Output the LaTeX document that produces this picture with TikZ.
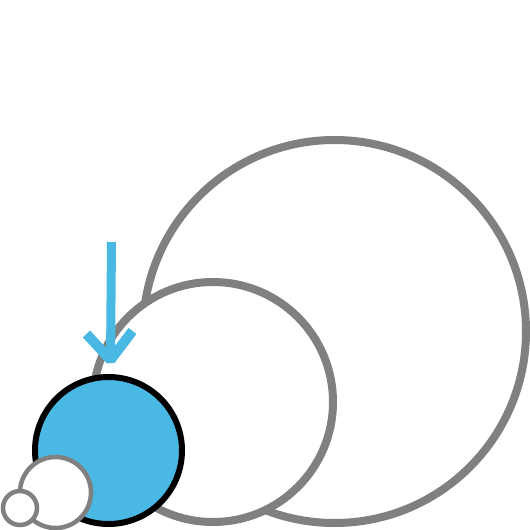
\documentclass[tikz,border=0pt]{standalone}
\usetikzlibrary{calc}
\definecolor{ringgray}{RGB}{128,128,128}
\definecolor{skyblue}{RGB}{73,185,228}
\begin{document}
\begin{tikzpicture}[x=1pt,y=-1pt,
  ring/.style={circle,draw=ringgray,fill=white,inner sep=0pt,outer sep=0pt},
  bluedisc/.style={circle,draw=black,fill=skyblue,inner sep=0pt,outer sep=0pt,line width=6pt},
  pointer/.style={draw=skyblue,line width=9pt,line join=bevel}]
\useasboundingbox (0,0) rectangle (530,530);
\node[ring,line width=8pt,minimum size=383pt] (big) at (334.5,331.5) {};
\node[ring,line width=8pt,minimum size=240pt] (mid) at (213,402) {};
\node[bluedisc,minimum size=147pt] (blue) at (108.5,450.5) {};
\node[ring,line width=4.5pt,minimum size=71pt] (small) at (55.5,492.5) {};
\node[ring,line width=4.5pt,minimum size=34pt] (tiny) at (20,508) {};
\coordinate (atop) at (111.5,242);
\coordinate (tip) at (110.5,360);
\draw[pointer] (atop) -- (tip);
\draw[pointer,line width=10pt] ($(tip)+(-24,-26)$) -- (tip) -- ($(tip)+(22,-29)$);
\end{tikzpicture}
\end{document}
